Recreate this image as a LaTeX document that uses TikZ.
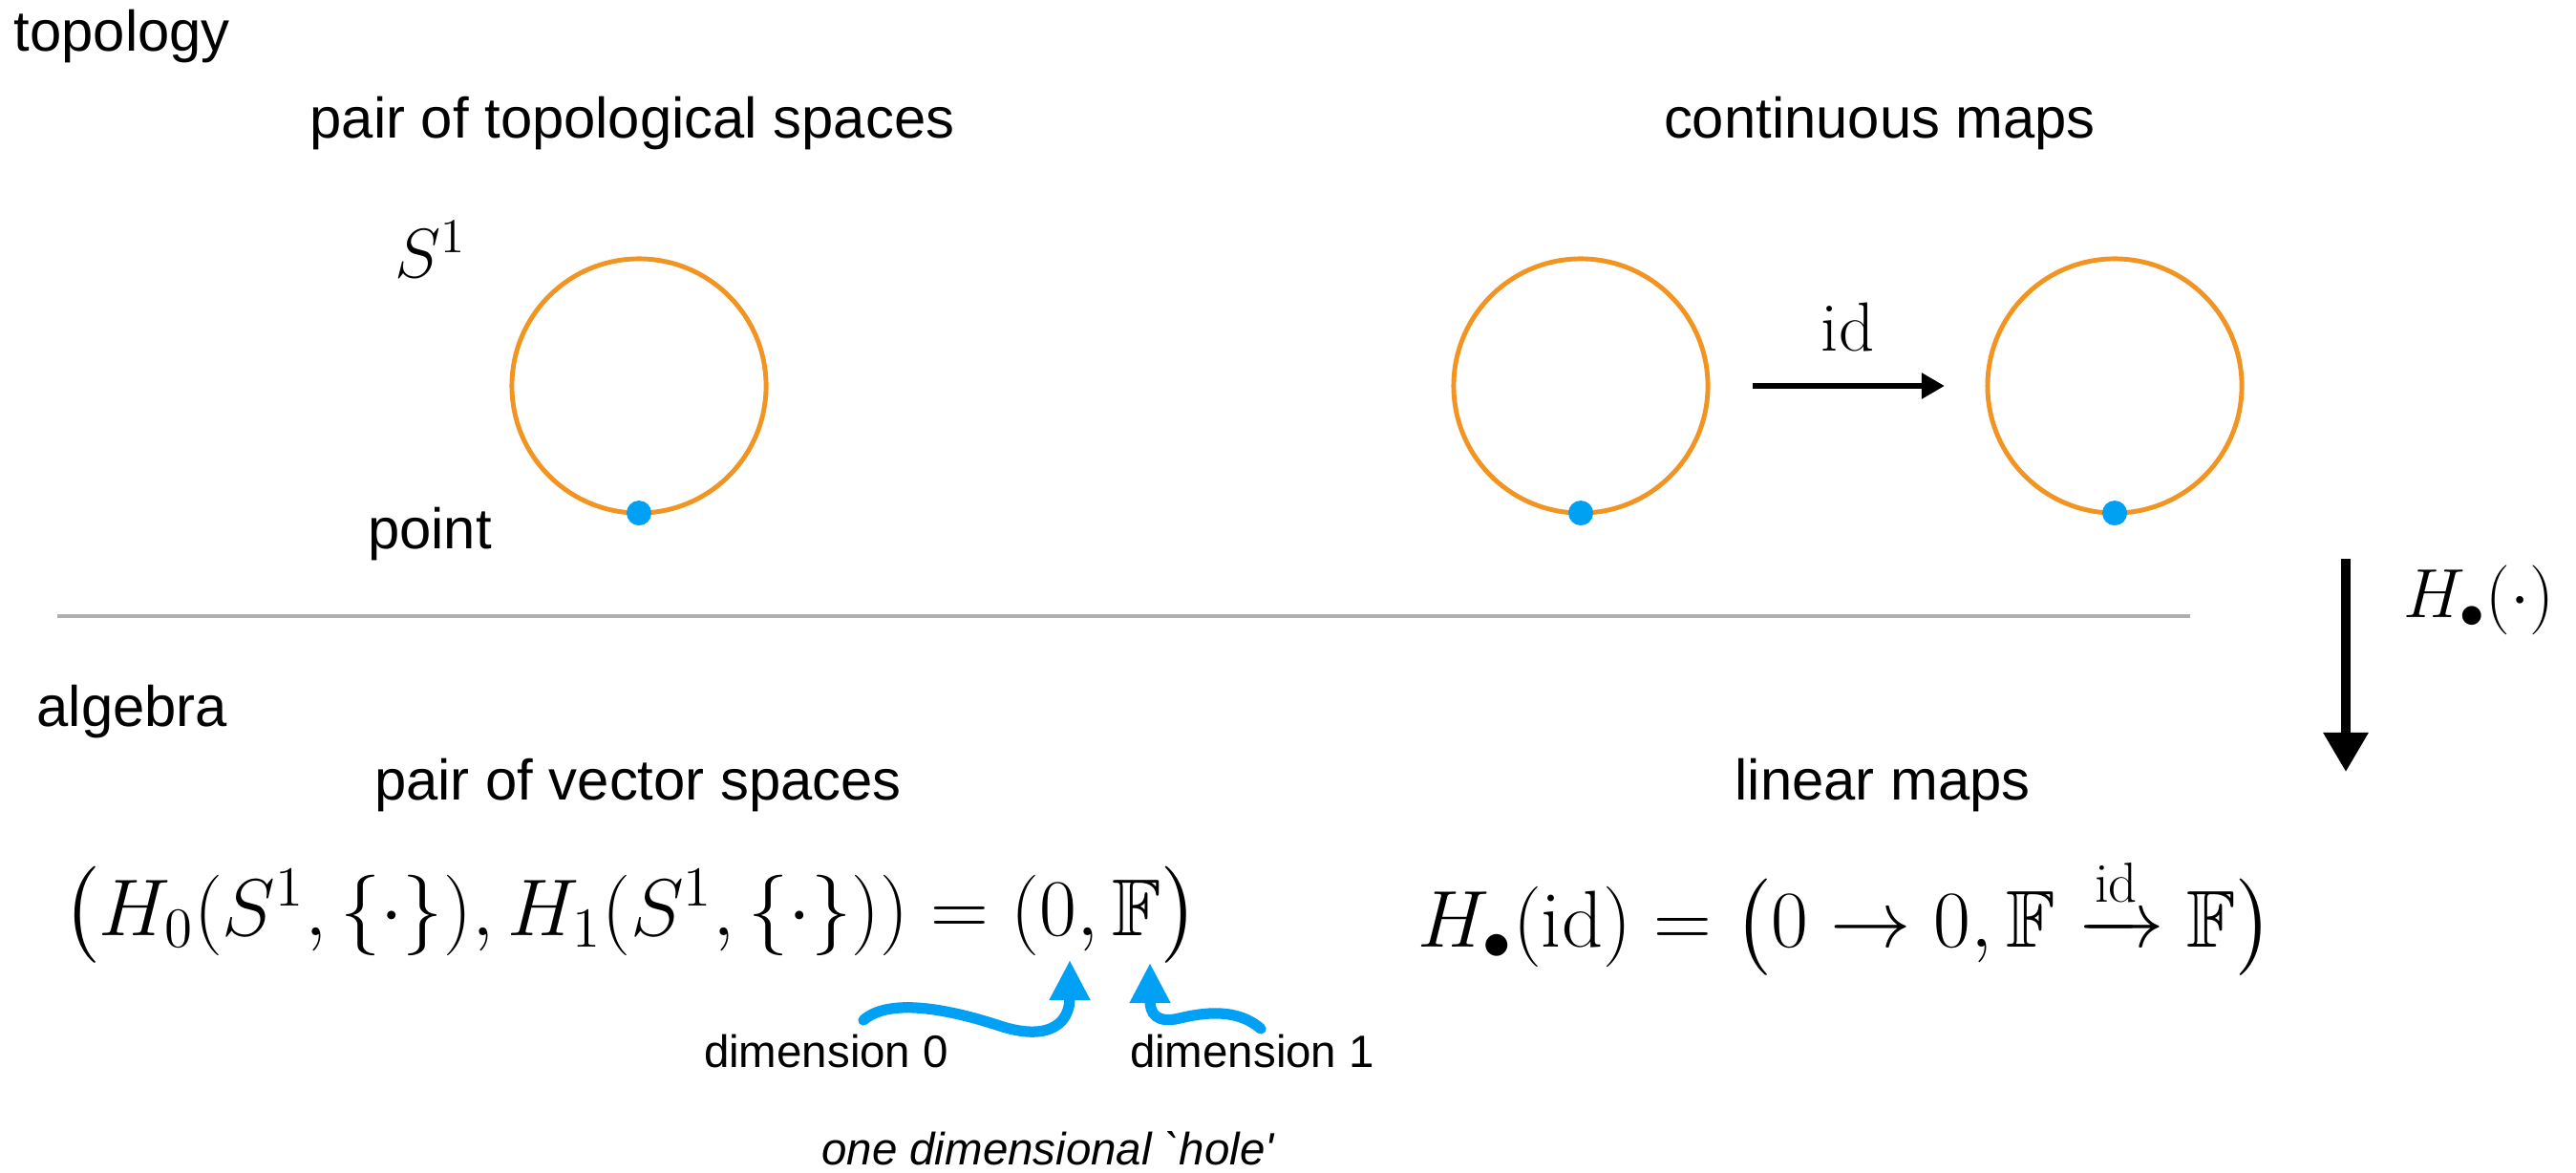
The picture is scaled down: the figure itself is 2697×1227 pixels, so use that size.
\RequirePackage{fix-cm}
\documentclass[tikz,border=0pt]{standalone}
\usepackage{amsmath,amssymb}
\usepackage{fontspec}
\newfontfamily\labelfont{Liberation Sans}
\usetikzlibrary{arrows.meta}
\definecolor{ringorange}{RGB}{242,148,34}
\definecolor{dotblue}{RGB}{0,160,245}
\definecolor{rulegray}{RGB}{175,175,175}
\tikzset{
	heading/.style={font=\fontsize{17}{20}\labelfont, inner sep=0pt},
	note/.style={font=\fontsize{13.5}{16}\labelfont, inner sep=0pt},
	formula/.style={font=\fontsize{24}{28}\selectfont, inner sep=0pt},
	symb/.style={font=\fontsize{20.7}{24}\selectfont, inner sep=0pt},
	space/.style={circle, draw=ringorange, line width=1.4pt, minimum size=2.66cm, outer sep=0pt, inner sep=0pt},
	basept/.style={circle, fill=dotblue, minimum size=0.26cm, inner sep=0pt},
	maparrow/.style={line width=1.6pt, -{Triangle[width=2.6mm,length=2.4mm]}},
	wiggle/.style={draw=dotblue, line width=3.2pt, line cap=round, -{Triangle[width=4mm,length=4.2mm]}}
}
\begin{document}
\begin{tikzpicture}[x=0.01cm,y=-0.01cm]
	\useasboundingbox (0,0) rectangle (2697,1227);
	
	%Topology half
	\node[heading,anchor=west] (topo) at (14,38) {topology};
	\node[heading] (pairtop) at (662,129) {pair of topological spaces};
	\node[heading] (contmaps) at (1968,129) {continuous maps};
	\node[space] (S1) at (669,404) {};
	\foreach \n/\x in {S2/1655,S3/2214}
	\node[space] (\n) at (\x,404) {};
	\foreach \n in {1,2,3}
	\node[basept] (p\n) at (S\n.south) {};
	\node[symb] (circlab) at (451,261) {$S^1$};
	\node[heading] (ptlab) at (450,559) {point};
	\draw[maparrow,shorten <=4.7mm,shorten >=4.5mm] (S2) -- (S3) node[symb,midway,above=3.3mm] (idlab) {$\mathrm{id}$};
	
	%Dividing line and functor
	\coordinate (ruleL) at (60,645);
	\coordinate (ruleR) at (2293,645);
	\draw[rulegray,line width=1.2pt] (ruleL) -- (ruleR);
	\coordinate (Htop) at (2456,585);
	\coordinate (Hbot) at (2456,808);
	\draw[line width=2.6pt,-{Triangle[width=4.5mm,length=4.1mm]}] (Htop) -- (Hbot);
	\node[symb] (Hlab) at (2595,628) {$H_\bullet(\cdot)$};
	
	%Algebra half
	\node[heading,anchor=west] (alg) at (38,745) {algebra};
	\node[heading] (pairvec) at (668,822) {pair of vector spaces};
	\node[heading] (linmaps) at (1971,822) {linear maps};
	\node[formula] (homleft) at (660,958) {$\big(H_0(S^1,\{\cdot\}),H_1(S^1,\{\cdot\}))=(0,\mathbb{F}\big)$};
	\node[formula] (homright) at (1932,958) {$H_\bullet(\mathrm{id})=\big(0\to 0,\mathbb{F}\xrightarrow{\mathrm{id}}\mathbb{F}\big)$};
	
	%Blue pointers
	\coordinate (tail0) at (904,1068);
	\coordinate (tip0) at (1120,1005);
	\coordinate (tail1) at (1320,1077);
	\coordinate (tip1) at (1204,1008);
	\draw[wiggle] (tail0) .. controls (930,1045) and (990,1055) .. (1050,1075) .. controls (1100,1090) and (1120,1070) .. (tip0);
	\draw[wiggle] (tail1) .. controls (1295,1055) and (1260,1060) .. (1235,1066) .. controls (1210,1072) and (1204,1060) .. (tip1);
	\node[note] (dim0) at (865,1101) {dimension 0};
	\node[note] (dim1) at (1311,1101) {dimension 1};
	\node[note,font=\fontsize{13.5}{16}\labelfont\itshape] (hole) at (1097,1202) {one dimensional `hole'};
	
\end{tikzpicture}
\end{document}
